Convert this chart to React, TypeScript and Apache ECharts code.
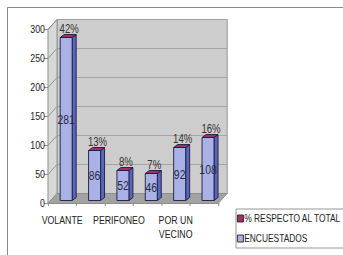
import React, { useEffect, useRef } from "react";
import * as echarts from "echarts";

const categories = ["VOLANTE", "", "PERIFONEO", "", "POR UN\nVECINO", ""];
const encuestados = [281, 86, 52, 46, 92, 108];
const porcentajes = [42, 13, 8, 7, 14, 16];
const yTicks = [0, 50, 100, 150, 200, 250, 300];

const FONT = "'Liberation Sans', Arial, sans-serif";
// the reference is horizontally condensed: render wider, then squeeze with CSS
const S = 0.8;
const W = 343 / S;
const H = 255;
const px = (v: number) => v / S; // horizontal screen px -> svg units

const DX = px(9); // back wall depth offset
const DY = -10;
const OX = px(4); // bar position inside depth
const OY = -3;
const SX = px(4); // bar depth
const SY = -3;
const BW = px(12);

export default function App() {
  const ref = useRef<HTMLDivElement>(null);
  useEffect(() => {
    if (!ref.current) return;
    const chart = echarts.init(ref.current, null, { renderer: "svg" });

    const barGeom = (api: any) => {
      const idx = api.value(0);
      const top = api.coord([idx, api.value(1)]);
      const bot = api.coord([idx, 0]);
      const x = top[0] + OX - BW / 2;
      const yT = Math.round(top[1] + OY) + 0.5;
      const yB = Math.round(bot[1] + OY) + 0.5;
      return { x, yT, yB };
    };

    const option: any = {
      animation: false,
      textStyle: { fontFamily: FONT },
      graphic: [
        {
          type: "rect",
          silent: true,
          shape: { x: px(7.5), y: 7.5, width: W, height: 300 },
          style: { fill: "none", stroke: "#7a7a7a", lineWidth: 1 },
          z: -10,
        },
      ],
      grid: { left: px(48), right: W - px(218), top: 29, bottom: 52 },
      xAxis: {
        type: "category",
        data: categories,
        axisLine: { show: true, lineStyle: { color: "#808080" } },
        axisTick: { show: true, length: 3, lineStyle: { color: "#808080" }, interval: 0 },
        axisLabel: {
          interval: 0,
          margin: 10,
          color: "#222",
          fontSize: 11,
          fontFamily: FONT,
          lineHeight: 14,
        },
        splitLine: { show: false },
      },
      yAxis: {
        type: "value",
        min: 0,
        max: 300,
        interval: 50,
        axisLine: { show: true, lineStyle: { color: "#808080" } },
        axisTick: { show: true, length: px(4), lineStyle: { color: "#808080" } },
        axisLabel: { color: "#222", fontSize: 11, fontFamily: FONT, margin: px(3) },
        splitLine: { show: false },
      },
      legend: {
        orient: "vertical",
        left: px(236),
        top: 209,
        padding: [4, px(10), 4, px(1)],
        borderColor: "#8a8a8a",
        borderWidth: 1,
        itemWidth: px(6),
        itemHeight: 7,
        itemGap: 9,
        icon: "rect",
        textStyle: { fontSize: 10.5, fontFamily: FONT, color: "#222", padding: [0, 0, 0, -4] },
        data: [
          { name: "% RESPECTO AL TOTAL", itemStyle: { color: "#a0306a", borderColor: "#222", borderWidth: 1 } },
          { name: "ENCUESTADOS", itemStyle: { color: "#a9b2e6", borderColor: "#222", borderWidth: 1 } },
        ],
      },
      series: [
        {
          name: "walls",
          type: "custom",
          silent: true,
          z: 1,
          data: [[0, 0]],
          renderItem: (params: any, api: any) => {
            const cs = params.coordSys;
            const x0 = cs.x;
            const x1 = cs.x + cs.width;
            const yTop = Math.round(cs.y) + 0.5;
            const yBot = Math.round(cs.y + cs.height) + 0.5;
            const children: any[] = [];
            children.push({
              type: "polygon",
              shape: { points: [[x0 + DX, yTop + DY], [x1 + DX, yTop + DY], [x1 + DX, yBot + DY], [x0 + DX, yBot + DY]] },
              style: { fill: "#cdcdcd", stroke: "#8c8c8c", lineWidth: 1 },
            });
            children.push({
              type: "polygon",
              shape: { points: [[x0, yBot], [x0, yTop], [x0 + DX, yTop + DY], [x0 + DX, yBot + DY]] },
              style: { fill: "#d8d8d8", stroke: "#8c8c8c", lineWidth: 1 },
            });
            children.push({
              type: "polygon",
              shape: { points: [[x0, yBot], [x1, yBot], [x1 + DX, yBot + DY], [x0 + DX, yBot + DY]] },
              style: { fill: "#a2a2a2", stroke: "#8c8c8c", lineWidth: 1 },
            });
            yTicks.forEach((v) => {
              if (v === 0) return;
              const y = Math.round(api.coord([0, v])[1]) + 0.5;
              children.push({
                type: "line",
                shape: { x1: x0 + DX, y1: y + DY, x2: x1 + DX, y2: y + DY },
                style: { stroke: "#a0a0a0", lineWidth: 1 },
              });
              children.push({
                type: "line",
                shape: { x1: x0, y1: y, x2: x0 + DX, y2: y + DY },
                style: { stroke: "#8c8c8c", lineWidth: 1 },
              });
            });
            return { type: "group", children };
          },
        },
        {
          name: "ENCUESTADOS",
          type: "custom",
          z: 2,
          itemStyle: { color: "#a9b2e6" },
          data: encuestados.map((v, i) => [i, v]),
          renderItem: (params: any, api: any) => {
            const { x, yT, yB } = barGeom(api);
            return {
              type: "group",
              children: [
                {
                  type: "polygon",
                  shape: { points: [[x + BW, yT], [x + BW + SX, yT + SY], [x + BW + SX, yB + SY], [x + BW, yB]] },
                  style: { fill: "#5a65bd", stroke: "#1c1c3c", lineWidth: 1 },
                },
                {
                  type: "rect",
                  shape: { x, y: yT, width: BW, height: yB - yT },
                  style: { fill: "#a9b2e6", stroke: "#1c1c3c", lineWidth: 1 },
                },
                {
                  type: "text",
                  x: x + BW / 2,
                  y: (yT + yB) / 2,
                  style: {
                    text: String(api.value(1)),
                    fontSize: 13,
                    fontFamily: FONT,
                    fill: "#2a2a44",
                    align: "center",
                    verticalAlign: "middle",
                  },
                },
              ],
            };
          },
        },
        {
          name: "% RESPECTO AL TOTAL",
          type: "custom",
          z: 3,
          itemStyle: { color: "#a0306a" },
          data: encuestados.map((v, i) => [i, v, porcentajes[i]]),
          renderItem: (params: any, api: any) => {
            const { x, yT } = barGeom(api);
            return {
              type: "group",
              children: [
                {
                  type: "polygon",
                  shape: { points: [[x, yT], [x + BW, yT], [x + BW + SX, yT + SY], [x + SX, yT + SY]] },
                  style: { fill: "#a0306a", stroke: "#1c1c3c", lineWidth: 1 },
                },
                {
                  type: "text",
                  x: x + BW / 2 + px(3),
                  y: yT + SY,
                  style: {
                    text: api.value(2) + "%",
                    fontSize: 12,
                    fontFamily: FONT,
                    fill: "#333",
                    align: "center",
                    verticalAlign: "bottom",
                  },
                },
              ],
            };
          },
        },
      ],
    };
    chart.setOption(option);
    return () => chart.dispose();
  }, []);
  return (
    <div style={{ position: "absolute", left: 0, top: 0, width: 343, height: H, overflow: "hidden", background: "#fff" }}>
      <div
        ref={ref}
        style={{ width: W, height: H, transform: `scaleX(${S})`, transformOrigin: "0 0" }}
      />
    </div>
  );
}
